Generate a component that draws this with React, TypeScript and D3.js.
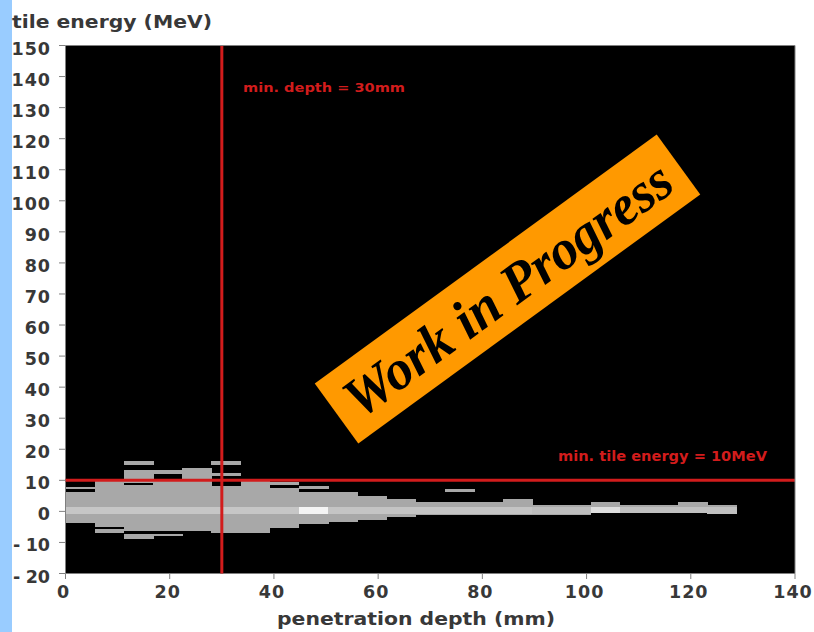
import React from "react";
import * as d3 from "d3";

// ---- data ----
const depthBinStarts = [0, 5.6, 11.2, 16.8, 22.4, 28.0, 33.6, 39.2, 44.8, 50.4, 56.0, 61.6, 67.2, 72.8, 78.4, 84.0, 89.6, 95.2, 100.8, 106.4, 112.0, 117.6, 123.2];
const binWidth = 5.6;
const bodyLow = [-3.9, -5.0, -6.4, -6.4, -6.4, -6.9, -6.9, -5.5, -4.0, -3.4, -2.9, -1.8, -1.3, -1.3, -1.3, -1.3, -1.3, -1.3, -0.5, -0.5, -0.5, -0.5, -0.8];
const bodyHigh = [6.4, 9.8, 8.4, 9.8, 14.0, 8.1, 10.5, 7.6, 6.2, 6.2, 4.9, 3.9, 3.0, 3.0, 3.0, 4.1, 1.9, 1.9, 3.0, 1.9, 1.9, 3.0, 1.9];
const coreShade = ["#c6c6c6", "#c6c6c6", "#c6c6c6", "#c6c6c6", "#c6c6c6", "#c6c6c6", "#c6c6c6", "#c6c6c6", "#f4f4f4", "#c4c4c4", "#c4c4c4", "#c4c4c4", "#c4c4c4", "#c4c4c4", "#c4c4c4", "#c4c4c4", "#bdbdbd", "#bdbdbd", "#dedede", "#c0c0c0", "#c0c0c0", "#c0c0c0", "#c0c0c0"];
const coreLow = -1.0;
const coreHigh = 1.4;
const stripBin = [0, 1, 2, 2, 2, 3, 3, 5, 5, 7, 8, 13];
const stripLow = [7.3, -6.9, 9.2, 15.0, -8.8, 12.1, -7.9, 11.4, 15.0, 8.6, 7.3, 6.4];
const stripHigh = [8.0, -5.8, 13.2, 16.1, -7.2, 13.2, -7.2, 12.5, 16.1, 9.4, 8.1, 7.3];

const xTicks = [0, 20, 40, 60, 80, 100, 120, 140];
const yTicks = [150, 140, 130, 120, 110, 100, 90, 80, 70, 60, 50, 40, 30, 20, 10, 0, -10, -20];
const yTickLabels = ["150", "140", "130", "120", "110", "100", "90", "80", "70", "60", "50", "40", "30", "20", "10", "0", "- 10", "- 20"];
const minDepth = 30;
const minEnergy = 10;
const yTitle = "tile energy (MeV)";
const xTitle = "penetration depth (mm)";
const depthLabel = "min. depth = 30mm";
const energyLabel = "min. tile energy = 10MeV";
const bannerText = "Work in Progress";

const W = 814;
const H = 632;
const L = 65.5, R = 795, T = 45.5, B = 573.5;

export default function App() {
  const x = d3.scaleLinear().domain([0, 140]).range([L, R]);
  const y = d3.scaleLinear().domain([-20, 150]).range([B, T]);
  const axisFont = "'DejaVu Sans', Verdana, sans-serif";
  const axisColor = "#383838";
  const red = "#d21c1c";

  const bx = (i: number) => x(depthBinStarts[i]);
  const bw = (i: number) => x(depthBinStarts[i] + binWidth) - x(depthBinStarts[i]);

  const cx = 507.5, cy = 289;

  return (
    <svg width={W} height={H} style={{ position: "absolute", left: 0, top: 0, background: "#fff" }}>
      <rect x={0} y={0} width={W} height={H} fill="#ffffff" />
      <rect x={0} y={0} width={12} height={H} fill="#99ccff" />

      {/* plot area */}
      <rect x={L} y={T} width={R - L} height={B - T} fill="#000" />

      {/* histogram */}
      <g shapeRendering="crispEdges">
        {depthBinStarts.map((d, i) => (
          <rect key={"b" + i} x={bx(i)} y={y(bodyHigh[i])} width={bw(i) + 0.5} height={y(bodyLow[i]) - y(bodyHigh[i])} fill="#a8a8a8" />
        ))}
        {stripBin.map((bi, k) => (
          <rect key={"s" + k} x={bx(bi)} y={y(stripHigh[k])} width={bw(bi) + 0.5} height={y(stripLow[k]) - y(stripHigh[k])} fill="#a8a8a8" />
        ))}
        {depthBinStarts.map((d, i) => {
          const lo = Math.max(coreLow, bodyLow[i]);
          const hi = Math.min(coreHigh, bodyHigh[i]);
          return <rect key={"c" + i} x={bx(i)} y={y(hi)} width={bw(i) + 0.5} height={y(lo) - y(hi)} fill={coreShade[i]} />;
        })}
      </g>

      {/* cut lines */}
      <line x1={x(minDepth)} x2={x(minDepth)} y1={T} y2={B} stroke={red} strokeWidth={3} />
      <line x1={L} x2={R} y1={y(minEnergy)} y2={y(minEnergy)} stroke={red} strokeWidth={3} />
      <text x={243} y={91.5} fill={red} fontFamily={axisFont} fontWeight="bold" fontSize={13} textLength={162} lengthAdjust="spacingAndGlyphs">{depthLabel}</text>
      <text x={558} y={460.5} fill={red} fontFamily={axisFont} fontWeight="bold" fontSize={13.5} textLength={209} lengthAdjust="spacingAndGlyphs">{energyLabel}</text>

      {/* plot frame */}
      <line x1={L} x2={R} y1={T} y2={T} stroke="#808080" strokeWidth={1} />
      <line x1={R} x2={R} y1={T} y2={B} stroke="#808080" strokeWidth={1} />

      {/* y axis */}
      {yTicks.map((t, i) => (
        <g key={"yt" + i}>
          <line x1={L - 6.5} x2={L} y1={y(t)} y2={y(t)} stroke="#808080" strokeWidth={1} />
          {t < 0 ? (
            <text x={13} y={y(t) + 9} fontFamily={axisFont} fontWeight="bold" fontSize={17.5} textLength={37} lengthAdjust="spacing" fill={axisColor}>{yTickLabels[i]}</text>
          ) : (
            <text x={51} y={y(t) + 9} textAnchor="end" fontFamily={axisFont} fontWeight="bold" fontSize={17.5} letterSpacing={1} fill={axisColor}>{yTickLabels[i]}</text>
          )}
        </g>
      ))}
      {/* x axis */}
      {xTicks.map((t, i) => (
        <g key={"xt" + i}>
          <line x1={x(t)} x2={x(t)} y1={B} y2={B + 5.5} stroke="#808080" strokeWidth={1} />
          <text x={x(t) - 2} y={598} textAnchor="middle" fontFamily={axisFont} fontWeight="bold" fontSize={17.5} letterSpacing={1} fill={axisColor}>{String(t)}</text>
        </g>
      ))}

      <text x={12} y={28} fontFamily={axisFont} fontWeight="bold" fontSize={17} textLength={200} lengthAdjust="spacingAndGlyphs" fill={axisColor}>{yTitle}</text>
      <text x={277} y={625} fontFamily={axisFont} fontWeight="bold" fontSize={17} textLength={278} lengthAdjust="spacingAndGlyphs" fill={axisColor}>{xTitle}</text>

      {/* banner */}
      <g transform={`translate(${cx},${cy}) rotate(-36.06)`}>
        <rect x={-211.5} y={-37} width={423} height={74} fill="#ff9900" />
        <text x={0} y={19} textAnchor="middle" fontFamily="'Liberation Serif', 'Times New Roman', serif" fontWeight="bold" fontStyle="italic" fontSize={56} textLength={392} lengthAdjust="spacingAndGlyphs" fill="#000">{bannerText}</text>
      </g>
    </svg>
  );
}
